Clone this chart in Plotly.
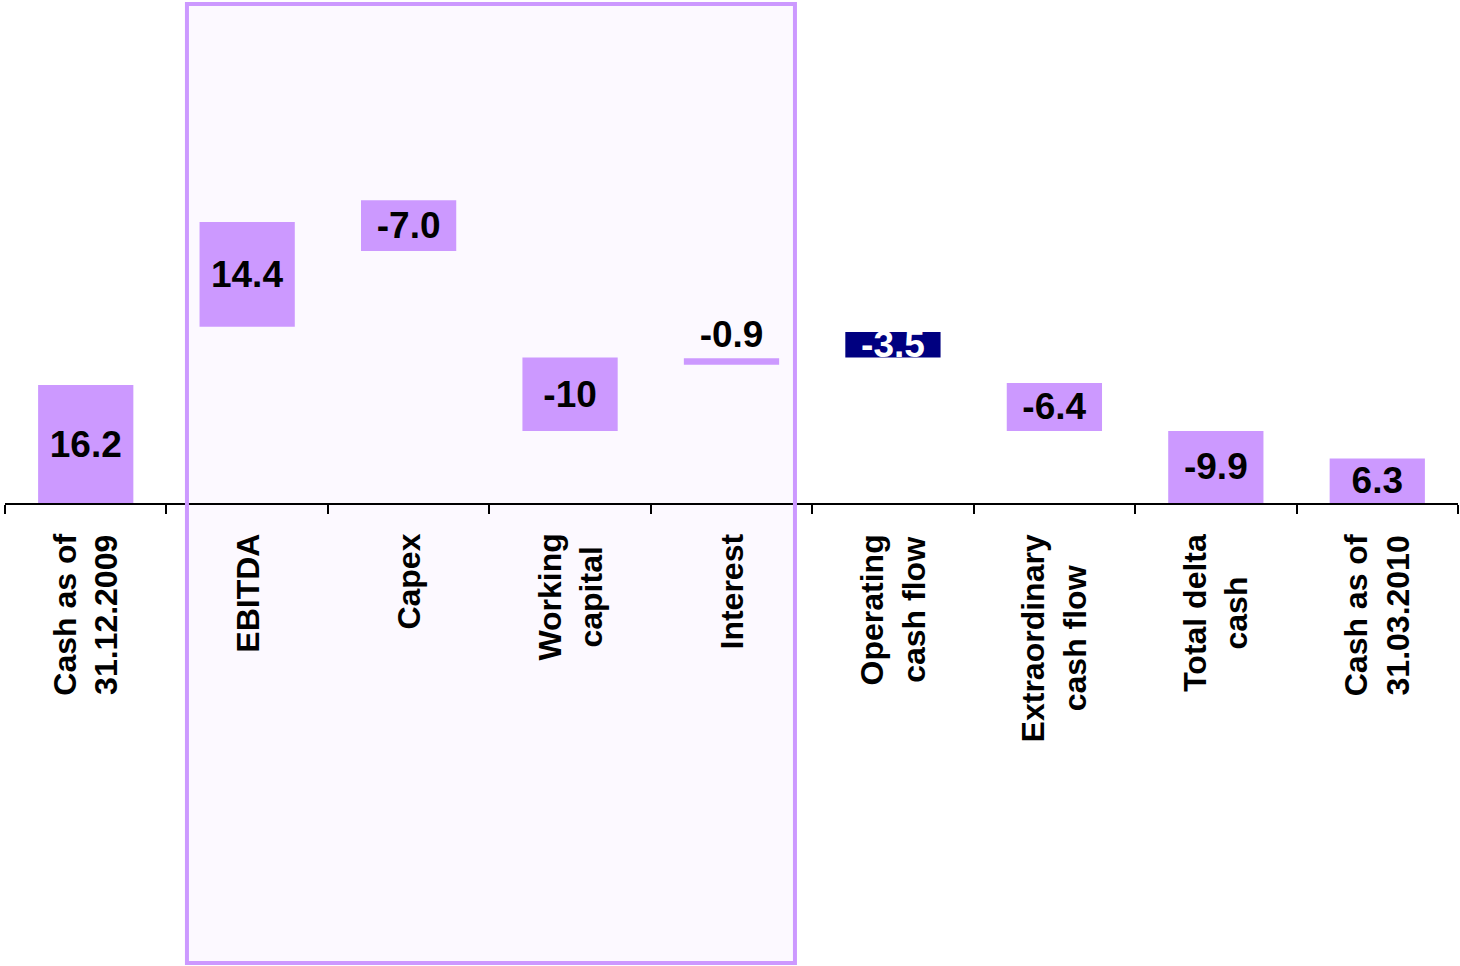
import plotly.graph_objects as go

categories = ["Cash as of<br>31.12.2009", "EBITDA", "Capex", "Working<br>capital", "Interest",
              "Operating<br>cash flow", "Extraordinary<br>cash flow", "Total delta<br>cash", "Cash as of<br>31.03.2010"]
bar_base = [0.0, 24.2, 34.6, 9.9, 19.0, 20.0, 9.9, 0.0, 0.0]
bar_height = [16.2, 14.4, 7.0, 10.1, 0.9, 3.5, 6.6, 9.9, 6.1]
value_labels = ["16.2", "14.4", "-7.0", "-10", "-0.9", "-3.5", "-6.4", "-9.9", "6.3"]
bar_colors = ["#CC99FF", "#CC99FF", "#CC99FF", "#CC99FF", "#CC99FF", "#000080", "#CC99FF", "#CC99FF", "#CC99FF"]
label_colors = ["black", "black", "black", "black", "black", "white", "black", "black", "black"]
label_positions = ["inside", "inside", "inside", "inside", "outside", "inside", "inside", "inside", "inside"]

W, H = 1460, 966
PX_PER_UNIT = 7.28
m_l, m_r, m_t, m_b = 5, 2, 0, 463
plot_h = H - m_t - m_b
FONT = "Liberation Sans, Arial, sans-serif"

fig = go.Figure()
fig.add_trace(go.Bar(
    x=categories, y=bar_height, base=bar_base,
    marker=dict(color=bar_colors, line=dict(width=0)),
    width=0.59,
    text=value_labels, textposition=label_positions,
    insidetextanchor="middle", constraintext="none", textangle=0,
    textfont=dict(family=FONT, size=37, color=label_colors, weight="bold"),
    cliponaxis=False,
    hoverinfo="skip",
))

# highlighted group box (fill below bars, border above)
box_x0, box_x1 = 0.627, 4.393
box_y0, box_y1 = 1 - 963 / plot_h, 1 - 4 / plot_h
fig.add_shape(type="rect", xref="x", yref="paper", x0=box_x0, x1=box_x1, y0=box_y0, y1=box_y1,
              fillcolor="#FCF9FF", line=dict(width=0), layer="below")
fig.add_shape(type="rect", xref="x", yref="paper", x0=box_x0, x1=box_x1, y0=box_y0, y1=box_y1,
              fillcolor="rgba(0,0,0,0)", line=dict(color="#CC99FF", width=4), layer="above")

for i, c in enumerate(categories):
    fig.add_annotation(x=i, xref="x", y=-29 / plot_h, yref="paper", text=c, showarrow=False,
                       textangle=-90, xanchor="center", yanchor="top", align="center",
                       font=dict(family=FONT, size=32, color="black", weight="bold"))

fig.update_xaxes(type="category", range=[-0.5, len(categories) - 0.5], showticklabels=False,
                 tickson="boundaries", ticks="outside", ticklen=9, tickwidth=2, tickcolor="black",
                 showline=True, linecolor="black", linewidth=2, showgrid=False, zeroline=False)
fig.update_yaxes(range=[0, plot_h / PX_PER_UNIT], visible=False, showgrid=False, zeroline=False)

fig.update_layout(width=W, height=H, margin=dict(l=m_l, r=m_r, t=m_t, b=m_b),
                  plot_bgcolor="rgba(0,0,0,0)", paper_bgcolor="white", showlegend=False,
                  bargap=0.41)

fig.write_html("out.html", config={"displayModeBar": False},
               post_script="document.body.style.margin='0px';")
